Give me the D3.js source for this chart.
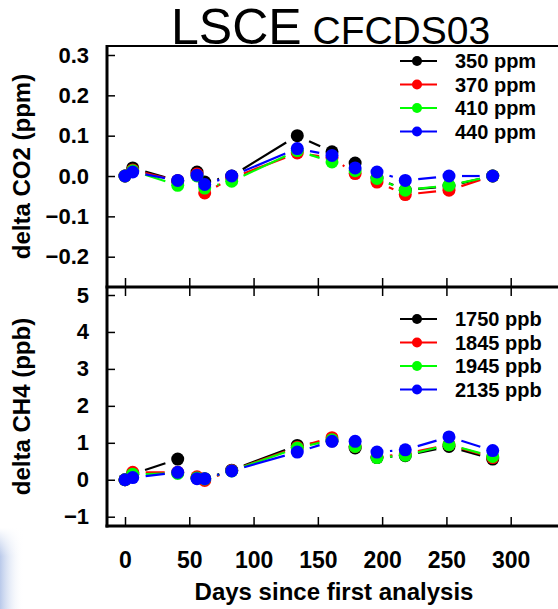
<!DOCTYPE html>
<html>
<head>
<meta charset="utf-8">
<script src="https://cdn.jsdelivr.net/npm/d3@7"></script>
<style>
  html, body { margin: 0; padding: 0; background: #fff; }
  svg { display: block; font-family: "Liberation Sans", Arial, sans-serif; }
</style>
</head>
<body>
<svg id="chart" width="558" height="609"></svg>
<script>
// ---------------- DATA ----------------
const days = [0, 6, 41, 56, 62, 83, 134, 161, 179, 196, 218, 252, 286];

const co2Labels = ["350 ppm", "370 ppm", "410 ppm", "440 ppm"];
const co2_350 = [0, 0.020, -0.012, 0.010, -0.015, 0.000, 0.100, 0.060, 0.032, -0.005, -0.035, -0.025, 0];
const co2_370 = [0, 0.015, -0.012, 0.005, -0.042, -0.005, 0.057, 0.045, 0.006, -0.015, -0.046, -0.035, 0];
const co2_410 = [0, 0.013, -0.023, 0.000, -0.030, -0.013, 0.063, 0.035, 0.013, -0.006, -0.035, -0.023, 0];
const co2_440 = [0, 0.010, -0.011, 0.002, -0.021, 0.000, 0.068, 0.051, 0.020, 0.010, -0.011, 0.000, 0];

const ch4Labels = ["1750 ppb", "1845 ppb", "1945 ppb", "2135 ppb"];
const ch4_1750 = [0, 0.15, 0.56, 0.05, 0.03, 0.26, 0.93, 1.05, 0.86, 0.60, 0.65, 0.90, 0.56];
const ch4_1845 = [0, 0.20, 0.20, 0.08, -0.02, 0.25, 0.88, 1.14, 0.90, 0.62, 0.70, 0.95, 0.60];
const ch4_1945 = [0, 0.15, 0.17, 0.05, 0.02, 0.24, 0.86, 1.08, 0.90, 0.60, 0.66, 0.95, 0.63];
const ch4_2135 = [0, 0.06, 0.20, 0.03, 0.03, 0.24, 0.75, 1.04, 1.04, 0.75, 0.81, 1.16, 0.79];

const seriesColors = ["#000000", "#ff0000", "#00ff00", "#0000ff"];

const xTicks = [0, 50, 100, 150, 200, 250, 300];
const co2Ticks = [-0.2, -0.1, 0.0, 0.1, 0.2, 0.3];
const ch4Ticks = [-1, 0, 1, 2, 3, 4, 5];

const titleMain = "LSCE";
const titleSub = "CFCDS03";
const xTitle = "Days since first analysis";
const co2Title = "delta CO2 (ppm)";
const ch4Title = "delta CH4 (ppb)";

// ---------------- LAYOUT ----------------
const svg = d3.select("#chart");
const W = 558, H = 609;
const left = 107, right = 558;
const topY = 46, midY = 287, botY = 526;

// background decoration (bottom-left slide shading)
const defs = svg.append("defs");
const grad = defs.append("linearGradient").attr("id", "deco").attr("x1", "0").attr("x2", "1").attr("y1", "0").attr("y2", "0");
grad.append("stop").attr("offset", "0").attr("stop-color", "#b9c9ea");
grad.append("stop").attr("offset", "1").attr("stop-color", "#ffffff").attr("stop-opacity", 0);
const grad2 = defs.append("linearGradient").attr("id", "deco2").attr("x1", "0").attr("x2", "0").attr("y1", "0").attr("y2", "1");
grad2.append("stop").attr("offset", "0").attr("stop-color", "#ffffff").attr("stop-opacity", 1);
grad2.append("stop").attr("offset", "0.35").attr("stop-color", "#ffffff").attr("stop-opacity", 0);
svg.append("rect").attr("x", 0).attr("y", 528).attr("width", 24).attr("height", 81).attr("fill", "url(#deco)");
svg.append("rect").attr("x", 0).attr("y", 528).attr("width", 24).attr("height", 81).attr("fill", "url(#deco2)");

const x = d3.scaleLinear().domain([0, 300]).range([125, 510.7]);
const yCO2 = d3.scaleLinear().domain([-0.2, 0.3]).range([256.7, 55]);
const yCH4 = d3.scaleLinear().domain([-1, 5]).range([516.7, 295]);

// ---------------- AXES ----------------
function styleAxis(g, fontSize) {
  g.select(".domain").remove();
  g.selectAll(".tick line").attr("stroke", "#000").attr("stroke-width", 1.5);
  g.selectAll(".tick text")
    .attr("fill", "#000")
    .style("font-size", fontSize + "px")
    .style("font-weight", "bold")
    .style("font-family", "'Liberation Sans', Arial, sans-serif");
}

// top panel y axis
svg.append("g").attr("transform", `translate(${left},0)`)
  .call(d3.axisLeft(yCO2).tickValues(co2Ticks).tickFormat(d3.format(".1f")).tickSize(-8).tickPadding(18))
  .call(g => styleAxis(g, 22));
// bottom panel y axis
svg.append("g").attr("transform", `translate(${left},0)`)
  .call(d3.axisLeft(yCH4).tickValues(ch4Ticks).tickFormat(d3.format("d")).tickSize(-8).tickPadding(18))
  .call(g => styleAxis(g, 22));
// top panel x ticks (bottom of panel, inward)
svg.append("g").attr("transform", `translate(0,${midY})`)
  .call(d3.axisBottom(x).tickValues(xTicks).tickFormat("").tickSize(-9))
  .call(g => styleAxis(g, 22));
// bottom panel x ticks at top (inward)
svg.append("g").attr("transform", `translate(0,${midY})`)
  .call(d3.axisTop(x).tickValues(xTicks).tickFormat("").tickSize(-9))
  .call(g => styleAxis(g, 22));
// bottom panel x axis with labels
svg.append("g").attr("transform", `translate(0,${botY})`)
  .call(d3.axisBottom(x).tickValues(xTicks).tickFormat(d3.format("d")).tickSize(-9).tickPadding(26))
  .call(g => styleAxis(g, 23));

// frame lines
const frame = svg.append("g").attr("stroke", "#000").attr("fill", "none");
frame.append("line").attr("x1", left).attr("x2", right).attr("y1", topY).attr("y2", topY).attr("stroke-width", 2);
frame.append("line").attr("x1", left - 1.5).attr("x2", right).attr("y1", midY).attr("y2", midY).attr("stroke-width", 3);
frame.append("line").attr("x1", left - 1.5).attr("x2", right).attr("y1", botY).attr("y2", botY).attr("stroke-width", 3);
frame.append("line").attr("x1", left).attr("x2", left).attr("y1", topY - 1).attr("y2", botY + 1.5).attr("stroke-width", 3);

// ---------------- TITLES ----------------
const title = svg.append("text").attr("x", 171).attr("y", 44).attr("fill", "#000")
  .style("font-family", "'Liberation Sans', Arial, sans-serif");
title.append("tspan").style("font-size", "50px").text(titleMain);
title.append("tspan").style("font-size", "39px").text(" " + titleSub);

svg.append("text").attr("x", 334).attr("y", 600).attr("text-anchor", "middle")
  .style("font-size", "24px").style("font-weight", "bold").attr("fill", "#000").text(xTitle);

svg.append("text").attr("transform", `translate(30,${(topY + midY) / 2}) rotate(-90)`).attr("text-anchor", "middle")
  .style("font-size", "24px").style("font-weight", "bold").attr("fill", "#000").text(co2Title);
svg.append("text").attr("transform", `translate(30,${(midY + botY) / 2}) rotate(-90)`).attr("text-anchor", "middle")
  .style("font-size", "24px").style("font-weight", "bold").attr("fill", "#000").text(ch4Title);

// ---------------- DATA MARKS ----------------
function drawPanel(seriesList, yScale, labels, legendTop) {
  const g = svg.append("g");
  const gap = 13;
  // gapped connecting lines
  seriesList.forEach((vals, si) => {
    const pts = days.map((d, i) => [x(d), yScale(vals[i])]);
    for (let i = 0; i < pts.length - 1; i++) {
      const [x0, y0] = pts[i], [x1, y1] = pts[i + 1];
      const dx = x1 - x0, dy = y1 - y0;
      const len = Math.hypot(dx, dy);
      if (len <= 2 * gap + 1) continue;
      const ux = dx / len, uy = dy / len;
      g.append("line")
        .attr("x1", x0 + ux * gap).attr("y1", y0 + uy * gap)
        .attr("x2", x1 - ux * gap).attr("y2", y1 - uy * gap)
        .attr("stroke", seriesColors[si]).attr("stroke-width", 2.2);
    }
  });
  // markers
  seriesList.forEach((vals, si) => {
    g.selectAll(null).data(days.map((d, i) => ({ d, v: vals[i] }))).enter()
      .append("circle")
      .attr("cx", p => x(p.d)).attr("cy", p => yScale(p.v)).attr("r", 6.5)
      .attr("fill", seriesColors[si]);
  });
  // legend
  const lg = svg.append("g");
  labels.forEach((lab, i) => {
    const yy = legendTop + i * 23.5;
    lg.append("line").attr("x1", 400).attr("x2", 437).attr("y1", yy).attr("y2", yy)
      .attr("stroke", seriesColors[i]).attr("stroke-width", 2.2);
    lg.append("circle").attr("cx", 417).attr("cy", yy).attr("r", 5).attr("fill", seriesColors[i]);
    lg.append("text").attr("x", 455).attr("y", yy).attr("dy", "0.35em")
      .style("font-size", "20px").style("font-weight", "bold").attr("fill", "#000").text(lab);
  });
}

drawPanel([co2_350, co2_370, co2_410, co2_440], yCO2, co2Labels, 61);
drawPanel([ch4_1750, ch4_1845, ch4_1945, ch4_2135], yCH4, ch4Labels, 319);
</script>
</body>
</html>
